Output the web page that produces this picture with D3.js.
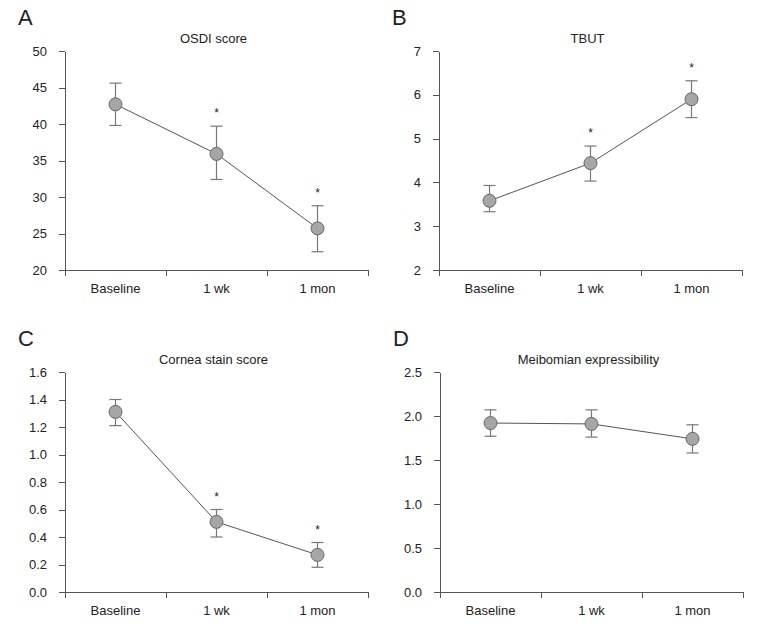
<!DOCTYPE html>
<html>
<head>
<meta charset="utf-8">
<title>Dry eye outcomes</title>
<script src="https://cdn.jsdelivr.net/npm/d3@7"></script>
<style>
  body { margin: 0; background: #fff; }
  svg { display: block; }
  text { font-family: "Liberation Sans", Arial, sans-serif; fill: #222; }
  .axis path, .axis line { stroke: #555; shape-rendering: crispEdges; }
  .axis text { font-size: 13px; fill: #222; }
  .title { font-size: 13px; }
  .letter { font-size: 22px; }
  .link { fill: none; stroke: #555; stroke-width: 1px; }
  .err { stroke: #777; stroke-width: 1.2px; }
  .dot { fill: #a6a6a6; stroke: #666; stroke-width: 1px; }
  .star { font-size: 12px; }
</style>
</head>
<body>
<svg></svg>
<script>
// data
var categories = ["Baseline", "1 wk", "1 mon"];

var osdiMean  = [42.7, 35.9, 25.7];
var osdiUpper = [45.6, 39.7, 28.8];
var osdiLower = [39.8, 32.4, 22.5];
var osdiSig   = [false, true, true];
var osdiTicks = [20, 25, 30, 35, 40, 45, 50];

var tbutMean  = [3.58, 4.44, 5.90];
var tbutUpper = [3.93, 4.83, 6.32];
var tbutLower = [3.33, 4.03, 5.48];
var tbutSig   = [false, true, true];
var tbutTicks = [2, 3, 4, 5, 6, 7];

var corneaMean  = [1.31, 0.51, 0.27];
var corneaUpper = [1.40, 0.60, 0.36];
var corneaLower = [1.21, 0.40, 0.18];
var corneaSig   = [false, true, true];
var corneaTicks = [0, 0.2, 0.4, 0.6, 0.8, 1.0, 1.2, 1.4, 1.6];

var meiboMean  = [1.92, 1.91, 1.74];
var meiboUpper = [2.07, 2.07, 1.90];
var meiboLower = [1.77, 1.76, 1.58];
var meiboSig   = [false, false, false];
var meiboTicks = [0, 0.5, 1.0, 1.5, 2.0, 2.5];

// layout
var svgWidth = 769, svgHeight = 625,
    plotWidth = 303;

var panels = [
  {letter: "A", title: "OSDI score", left: 65, top: 51, bottom: 270,
   mean: osdiMean, upper: osdiUpper, lower: osdiLower, sig: osdiSig, ticks: osdiTicks, fmt: d3.format("d")},
  {letter: "B", title: "TBUT", left: 439, top: 51, bottom: 270,
   mean: tbutMean, upper: tbutUpper, lower: tbutLower, sig: tbutSig, ticks: tbutTicks, fmt: d3.format("d")},
  {letter: "C", title: "Cornea stain score", left: 65, top: 372, bottom: 592,
   mean: corneaMean, upper: corneaUpper, lower: corneaLower, sig: corneaSig, ticks: corneaTicks, fmt: d3.format(".1f")},
  {letter: "D", title: "Meibomian expressibility", left: 440, top: 372, bottom: 592,
   mean: meiboMean, upper: meiboUpper, lower: meiboLower, sig: meiboSig, ticks: meiboTicks, fmt: d3.format(".1f")}
];

var svg = d3.select("svg")
  .attr("width", svgWidth)
  .attr("height", svgHeight);

panels.forEach(drawPanel);

function drawPanel(p) {
  var g = svg.append("g");

  var y = d3.scaleLinear()
    .domain(d3.extent(p.ticks))
    .range([p.bottom, p.top]);

  var x = d3.scaleBand()
    .domain(categories)
    .range([p.left, p.left + plotWidth]);

  var xEdge = d3.scaleLinear()
    .domain([0, categories.length])
    .range([p.left, p.left + plotWidth]);

  // y axis
  g.append("g")
    .attr("class", "axis")
    .attr("transform", "translate(" + p.left + ",0)")
    .call(d3.axisLeft(y).tickValues(p.ticks).tickFormat(p.fmt).tickSize(6).tickPadding(12).tickSizeOuter(0));

  // x axis: ticks at band edges, labels in band centres
  g.append("g")
    .attr("class", "axis")
    .attr("transform", "translate(0," + p.bottom + ")")
    .call(d3.axisBottom(xEdge).tickValues(d3.range(categories.length + 1)).tickFormat("").tickSize(6).tickSizeOuter(0));

  g.append("g")
    .selectAll("text")
    .data(categories)
    .enter().append("text")
      .attr("x", function(d) { return x(d) + x.bandwidth() / 2; })
      .attr("y", p.bottom + 23)
      .attr("text-anchor", "middle")
      .style("font-size", "13px")
      .text(function(d) { return d; });

  // title + letter
  g.append("text")
    .attr("class", "title")
    .attr("x", p.left + plotWidth / 2 - 3)
    .attr("y", p.top - 8)
    .attr("text-anchor", "middle")
    .text(p.title);

  g.append("text")
    .attr("class", "letter")
    .attr("x", p.left - 47)
    .attr("y", p.top - 26)
    .text(p.letter);

  var cx = function(i) { return x(categories[i]) + x.bandwidth() / 2; };
  var idx = d3.range(categories.length);

  // connecting line
  g.append("path")
    .attr("class", "link")
    .attr("d", d3.line().x(function(i) { return cx(i); }).y(function(i) { return y(p.mean[i]); })(idx));

  // error bars
  var eb = g.append("g").selectAll("g").data(idx).enter().append("g");
  eb.append("line")
    .attr("class", "err")
    .attr("x1", cx).attr("x2", cx)
    .attr("y1", function(i) { return y(p.upper[i]); })
    .attr("y2", function(i) { return y(p.lower[i]); });
  [p.upper, p.lower].forEach(function(arr) {
    eb.append("line")
      .attr("class", "err")
      .attr("x1", function(i) { return cx(i) - 6; })
      .attr("x2", function(i) { return cx(i) + 6; })
      .attr("y1", function(i) { return y(arr[i]); })
      .attr("y2", function(i) { return y(arr[i]); });
  });

  // points
  g.append("g").selectAll("circle")
    .data(idx)
    .enter().append("circle")
      .attr("class", "dot")
      .attr("cx", cx)
      .attr("cy", function(i) { return y(p.mean[i]); })
      .attr("r", 6.5);

  // significance marks
  g.append("g").selectAll("text")
    .data(idx.filter(function(i) { return p.sig[i]; }))
    .enter().append("text")
      .attr("class", "star")
      .attr("x", cx)
      .attr("y", function(i) { return y(p.upper[i]) - 9; })
      .attr("text-anchor", "middle")
      .text("*");
}
</script>
</body>
</html>
